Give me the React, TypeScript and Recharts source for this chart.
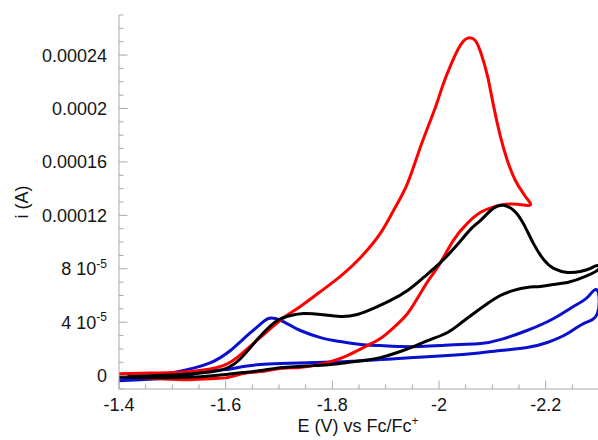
import React from 'react'
import { LineChart, Line, XAxis, YAxis } from 'recharts'

// potentials in V vs Fc/Fc+, currents in µA
const redE = [
  -1.4, -1.459, -1.515, -1.562, -1.6, -1.628, -1.656, -1.684, -1.712, -1.74, -1.778, -1.815, -1.853,
  -1.89, -1.915, -1.941, -1.965, -1.99, -2.008, -2.022, -2.035, -2.046, -2.055, -2.067,
  -2.078, -2.091, -2.102, -2.115, -2.128, -2.143, -2.158, -2.166, -2.172,
  -2.162, -2.147, -2.125, -2.1, -2.078, -2.053, -2.027, -2.003, -1.984, -1.965, -1.941, -1.915,
  -1.89, -1.858, -1.828, -1.797, -1.765, -1.735, -1.703, -1.665, -1.633, -1.603, -1.572, -1.528,
  -1.478, -1.44, -1.4,
]
const redI = [
  1.5, 1.9, 2.6, 4.5, 8.3, 15.8, 25.5, 35.3, 44.3, 51.8, 63, 74.3, 88.5,
  106.5, 123.8, 144, 171, 197.3, 218.3, 232.5, 243.8, 250.5, 252.8, 251.3,
  242.3, 224.3, 202.5, 179.3, 161.3, 146.3, 136.5, 132, 128.3,
  127.5, 128.3, 128.3, 126, 122.3, 114, 101.3, 84.8, 73.5, 61.5, 46.5, 36,
  27.8, 21, 15, 10.5, 7.5, 6, 5.3, 3, 1.5, -1.5, -2.3, -3,
  -2.3, -1.5, 0,
]

const blackE = [
  -1.4, -1.459, -1.515, -1.562, -1.6, -1.628, -1.656, -1.675, -1.697, -1.722, -1.746, -1.778, -1.815,
  -1.847, -1.877, -1.909, -1.941, -1.971, -2.003, -2.035, -2.059, -2.078, -2.102, -2.121, -2.14,
  -2.158, -2.177, -2.196, -2.215, -2.241, -2.265, -2.284, -2.297,
  -2.297, -2.265, -2.241, -2.215, -2.19, -2.165, -2.14, -2.115, -2.091, -2.065, -2.04, -2.016,
  -1.984, -1.952, -1.922, -1.89, -1.858, -1.828, -1.797, -1.765, -1.735, -1.703, -1.665, -1.633,
  -1.6, -1.553, -1.497, -1.44, -1.4,
]
const blackI = [
  -0.8, 0, 0.8, 2.3, 5.3, 12.8, 25.5, 33.8, 41.3, 45, 46.5, 45.8, 44.3,
  45.8, 50.3, 56.3, 63.8, 73.5, 84.8, 98.3, 109.5, 116.3, 125.3, 127.5, 123.8,
  114, 99, 87, 80.3, 77.3, 78, 80.3, 82.5,
  78.8, 72.8, 69.8, 68.3, 66.8, 66, 63.8, 60, 54, 46.5, 39, 32.3,
  27, 21.8, 17.3, 13.5, 11.3, 9.8, 8.3, 7.5, 6.8, 6, 3.8, 2.3,
  0.8, -0.8, -1.5, -1.5, -0.8,
]

const blueE = [
  -1.4, -1.459, -1.51, -1.543, -1.572, -1.59, -1.609, -1.628, -1.647, -1.662, -1.671, -1.68, -1.693,
  -1.708, -1.722, -1.74, -1.778, -1.815, -1.853, -1.89, -1.928, -1.965, -2.003, -2.04, -2.078,
  -2.115, -2.165, -2.215, -2.252, -2.278, -2.297,
  -2.297, -2.271, -2.241, -2.203, -2.165, -2.115, -2.065, -2.016, -1.952, -1.89, -1.828, -1.765,
  -1.703, -1.665, -1.633, -1.6, -1.572, -1.534, -1.497, -1.44, -1.4,
]
const blueI = [
  -3, -0.8, 3, 6, 9.8, 13.5, 18.8, 25.5, 32.3, 37.5, 40.5, 42.8, 42.8,
  40.5, 37.5, 33.8, 28.5, 25.5, 23.3, 22.5, 21.8, 21.8, 22.5, 23.3, 24,
  27, 33.8, 42.8, 51.8, 58.5, 63.8,
  46.5, 39, 31.5, 24.8, 21, 18.8, 16.5, 15, 13.5, 12, 10.5, 9.8,
  9, 8.3, 6.8, 4.5, 3.8, 0.8, -1.5, -3, -3.8,
]

// y tick labels, keyed by µA value
const yLabels: Record<number, [string, string?]> = {
  0: ['0'],
  40: ['4 10', '-5'],
  80: ['8 10', '-5'],
  120: ['0.00012'],
  160: ['0.00016'],
  200: ['0.0002'],
  240: ['0.00024'],
}

const xTicks: number[] = []
for (let k = 0; k <= 18; k++) xTicks.push(Number((-1.4 - k * 0.05).toFixed(2)))
const yTicks: number[] = []
for (let v = -10; v <= 270; v += 10) yTicks.push(v)

const FONT = '"Liberation Sans", Arial, sans-serif'
const AXIS = '#a9a9a9'
const TEXT = '#141414'

const toPoints = (E: number[], I: number[]) => E.map((e, k) => ({ E: e, i: I[k] }))
const red = toPoints(redE, redI)
const black = toPoints(blackE, blackI)
const blue = toPoints(blueE, blueI)

const XTick = (props: any) => {
  const { x, y, payload } = props
  const v = payload.value as number
  const major = Math.abs(Math.round(v * 100)) % 20 === 0
  return (
    <g>
      <line x1={x} x2={x} y1={y} y2={y - (major ? 8.5 : 4.5)} stroke={AXIS} />
      {major && (
        <text x={x} y={y + 22} textAnchor="middle" fontSize={18} fontFamily={FONT} fill={TEXT}>
          {String(Number(v.toFixed(2)))}
        </text>
      )}
    </g>
  )
}

const YTick = (props: any) => {
  const { x, y, payload } = props
  const v = payload.value as number
  const lab = yLabels[v]
  return (
    <g>
      <line x1={x} x2={x + (lab ? 8.5 : 4.5)} y1={y} y2={y} stroke={AXIS} />
      {lab && (
        <text x={x - 12} y={y + 6.5} textAnchor="end" fontSize={18} fontFamily={FONT} fill={TEXT}>
          {lab[0]}
          {lab[1] && (
            <tspan dy={-7.5} fontSize={12}>
              {lab[1]}
            </tspan>
          )}
        </text>
      )}
    </g>
  )
}

export default function App() {
  return (
    <div style={{ position: 'absolute', left: 0, top: 0, width: 598, height: 440, overflow: 'hidden', background: '#fff' }}>
      <LineChart width={600} height={440} margin={{ top: 15, right: 1, bottom: 0, left: 0 }}>
        <XAxis
          type="number"
          dataKey="E"
          domain={[-2.3, -1.4]}
          reversed
          ticks={xTicks}
          interval={0}
          tickSize={0}
          tickMargin={0}
          tickLine={false}
          tick={XTick}
          axisLine={{ stroke: AXIS }}
          height={51}
        />
        <YAxis
          type="number"
          dataKey="i"
          domain={[-10, 270]}
          ticks={yTicks}
          interval={0}
          tickSize={0}
          tickMargin={0}
          tickLine={false}
          tick={YTick}
          axisLine={{ stroke: AXIS }}
          width={119}
        />
        <Line data={blue} dataKey="i" type="natural" stroke="#0a10cc" strokeWidth={3} dot={false} isAnimationActive={false} />
        <Line data={red} dataKey="i" type="natural" stroke="#ff0000" strokeWidth={3} dot={false} isAnimationActive={false} />
        <Line data={black} dataKey="i" type="natural" stroke="#000000" strokeWidth={3} dot={false} isAnimationActive={false} />
      </LineChart>
      <svg width={598} height={440} style={{ position: 'absolute', left: 0, top: 0, pointerEvents: 'none' }}>
        <text x={358} y={432} textAnchor="middle" fontSize={18} fontFamily={FONT} fill={TEXT}>
          E (V) vs Fc/Fc
          <tspan dy={-7.5} fontSize={12}>+</tspan>
        </text>
        <text
          x={28}
          y={202}
          textAnchor="middle"
          fontSize={18}
          fontFamily={FONT}
          fill={TEXT}
          transform="rotate(-90, 28, 202)"
        >
          i (A)
        </text>
      </svg>
    </div>
  )
}
